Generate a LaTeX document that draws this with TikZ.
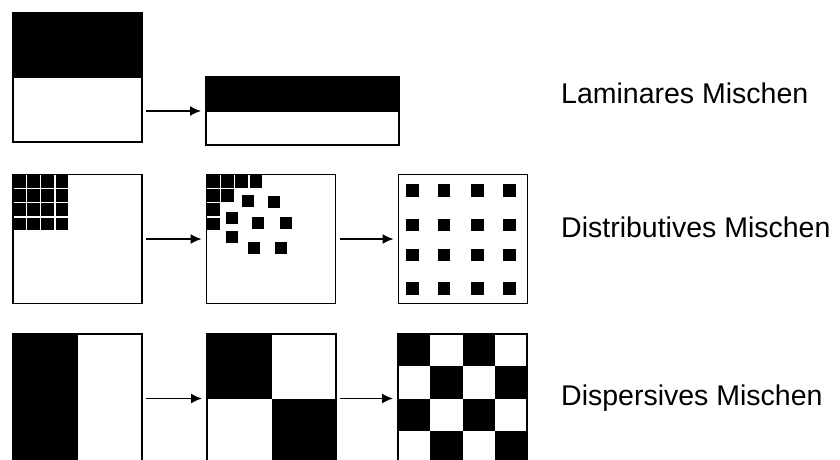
\documentclass[tikz,border=0pt]{standalone}
\usepackage{fontspec}
\setmainfont{Liberation Sans}
\usetikzlibrary{arrows.meta}
\begin{document}
\begin{tikzpicture}[x=1pt,y=-1pt,
  box/.style={draw=black, line width=1.4pt, inner sep=0pt, outer sep=0pt, minimum width=129pt, minimum height=129pt},
  flow/.style={-{Latex[length=11pt,width=10pt]}, line width=1.4pt, shorten <=4pt, shorten >=5pt},
  lbl/.style={anchor=base west, inner sep=0pt, font=\fontsize{28.5}{34}\selectfont},
  blk/.style={fill=black}]
\useasboundingbox (0,0) rectangle (840,459);
\fill[white] (0,0) rectangle (840,459);
\begin{scope}
\clip (0,0) rectangle (840,459);
% --- laminar fills
\fill[blk] (13,13) rectangle (142,77.5);
\fill[blk] (206,77) rectangle (399,111.5);
% --- distributive: start grid
\foreach \i in {0,...,3}
  \foreach \j in {0,...,3}
    \fill[blk] (13+14.2*\i,175+14.2*\j) rectangle ++(12.6,12.6);
% --- distributive: partly spread
\foreach \i/\j in {0/0,1/0,2/0,3/0,0/1,1/1,0/2,0/3}
    \fill[blk] (207+14.2*\i,175+14.2*\j) rectangle ++(12.6,12.6);
\foreach \cx/\cy in {248/200.5,274/201.5,232/218,258/222.5,286/223,232/236.5,254/247.5,280.5/247.5}
    \fill[blk] (\cx-6,\cy-6) rectangle ++(12,12);
% --- distributive: evenly spread
\foreach \cx in {412.5,444,477.5,509.5}
  \foreach \cy in {190.5,225,255,288.5}
    \fill[blk] (\cx-6.3,\cy-6.3) rectangle ++(12.6,12.6);
% --- dispersive
\fill[blk] (13,334) rectangle (77.5,463);
\fill[blk] (207,334) rectangle (271.5,398.5);
\fill[blk] (271.5,398.5) rectangle (336,463);
\foreach \i in {0,...,3}
  \foreach \j in {0,...,3} {
    \pgfmathtruncatemacro{\myparity}{mod(\i+\j,2)}
    \ifnum\myparity=0
      \fill[blk] (398+32.25*\i,334+32.25*\j) rectangle ++(32.25,32.25);
    \fi
  }
% --- boxes
\node[box] (l1) at (77.5,77.5) {};
\node[box, minimum width=193pt, minimum height=68pt] (l2) at (302.5,111) {};
\node[box] (d1) at (77.5,239) {};
\node[box] (d2) at (271,239) {};
\node[box] (d3) at (463,239) {};
\node[box] (p1) at (77.5,398.5) {};
\node[box] (p2) at (271.5,398.5) {};
\node[box] (p3) at (462.5,398.5) {};
\end{scope}
% --- arrows
\draw[flow] (l1.east |- l2.west) -- (l2.west);
\draw[flow] (d1.east) -- (d2.west);
\draw[flow] (d2.east) -- (d3.west);
\draw[flow] (p1.east) -- (p2.west);
\draw[flow] (p2.east) -- (p3.west);
% --- labels
\node[lbl] (t1) at (561,103) {Laminares Mischen};
\node[lbl] (t2) at (561,237) {Distributives Mischen};
\node[lbl] (t3) at (561,405) {Dispersives Mischen};
\end{tikzpicture}
\end{document}
